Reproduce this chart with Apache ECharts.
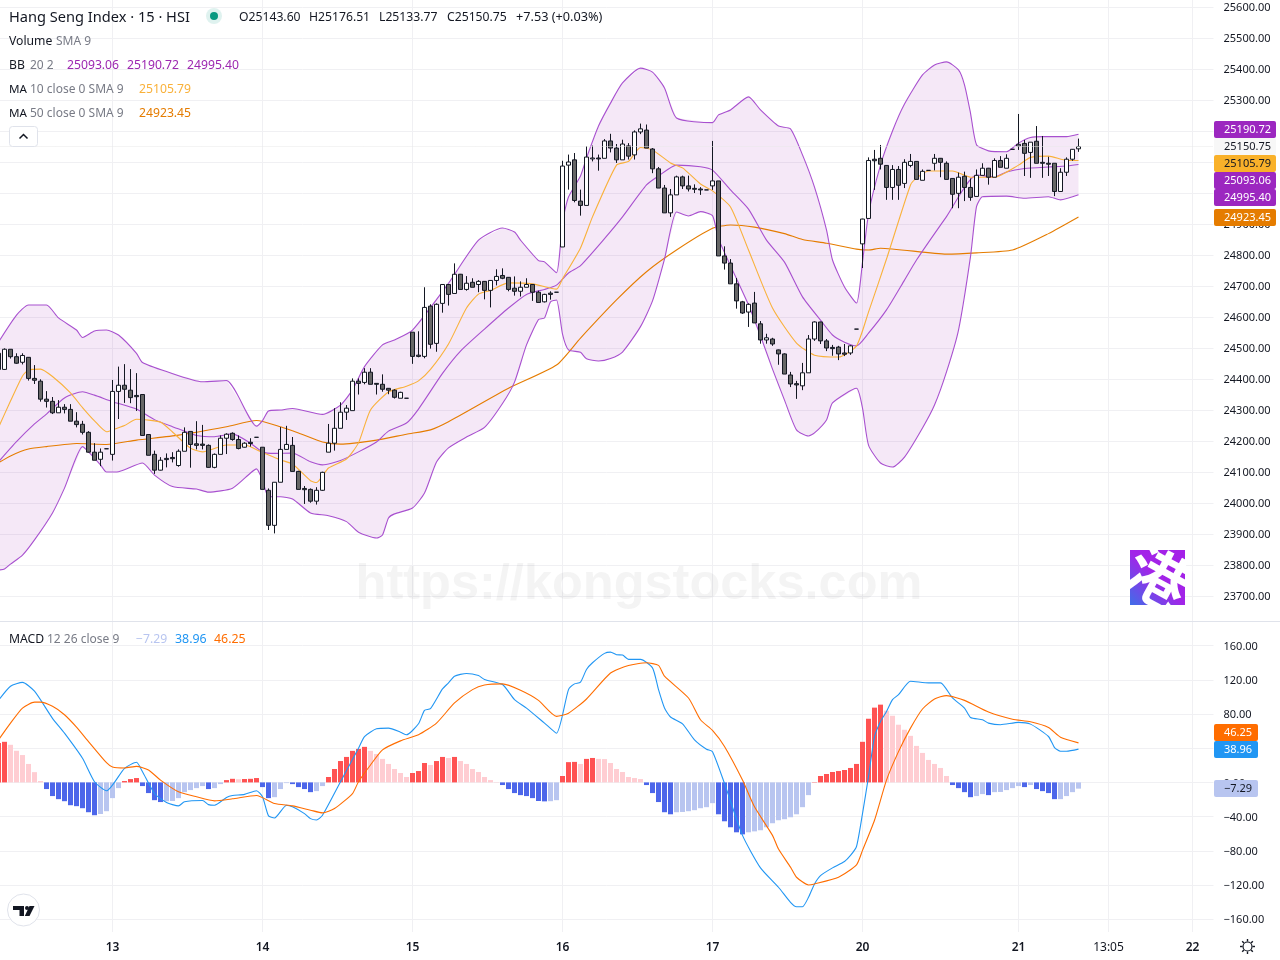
<!DOCTYPE html>
<html>
<head>
<meta charset="utf-8">
<title>Hang Seng Index 15m</title>
<style>html,body{margin:0;padding:0;background:#fff}#chart{width:1280px;height:960px}</style>
<script src="https://cdn.jsdelivr.net/npm/echarts@6/dist/echarts.min.js"></script>
</head>
<body>
<div id="chart"></div>
<script>
// 15-minute bars, one row per ten bars
const opens = [
24484,24432,24497,24473,24455,24471,24403,24394,24336,24329,
24292,24310,24303,24265,24255,24229,24165,24142,24176,24158,
24361,24381,24365,24348,24351,24222,24158,24107,24145,24148,
24122,24168,24232,24192,24191,24187,24116,24158,24210,24226,
24206,24181,24197,24213,24181,24042,23929,24068,24174,24187,
24103,24048,24045,24007,24042,24165,24194,24242,24294,24299,
24394,24390,24423,24387,24384,24371,24365,24339,24339,24552,
24478,24474,24636,24516,24645,24706,24677,24739,24690,24713,
24706,24716,24687,24719,24735,24729,24694,24684,24697,24706,
24681,24650,24678,24681,24827,25091,25108,24975,24961,25111,
25114,25113,25169,25146,25108,25153,25124,25198,25204,25143,
25079,25017,24937,24995,25053,25024,25016,25014,25011,25024,
25040,24798,24775,24708,24650,24617,24646,24579,24527,24530,
24495,24482,24414,24386,24379,24421,24530,24585,24524,24503,
24504,24485,24485,24562,24837,24919,25110,25113,25090,25019,
25077,25032,25090,25103,25042,25074,25097,25113,25097,25048,
25000,25055,25019,24990,25058,25081,25052,25106,25081,25142,
25153,25161,25132,25168,25100,25097,25097,25006,25068,25110,
25143.60];
const highs = [
24490,24500,24497,24484,24484,24472,24446,24400,24362,24343,
24333,24320,24320,24294,24266,24233,24194,24177,24176,24398,
24441,24449,24433,24420,24351,24222,24170,24149,24161,24165,
24174,24245,24232,24265,24253,24190,24161,24219,24226,24229,
24219,24197,24210,24213,24181,24048,24068,24246,24250,24214,
24105,24056,24048,24052,24102,24256,24307,24326,24317,24403,
24403,24436,24436,24388,24416,24372,24368,24360,24339,24552,
24555,24697,24642,24645,24707,24707,24774,24740,24733,24726,
24720,24717,24720,24755,24758,24730,24732,24716,24726,24707,
24686,24676,24684,24681,25105,25125,25130,25012,25152,25154,
25125,25175,25192,25159,25173,25162,25203,25225,25222,25146,
25085,25027,25014,25057,25057,25057,25029,25020,25011,25169,
25040,24829,24788,24727,24653,24645,24682,24588,24547,24534,
24496,24484,24424,24395,24453,24543,24587,24586,24530,24511,
24508,24514,24510,24562,24918,25116,25140,25156,25091,25091,
25088,25110,25127,25104,25077,25074,25127,25114,25103,25049,
25067,25070,25048,25077,25097,25082,25113,25120,25126,25142,
25256,25172,25165,25217,25185,25118,25097,25081,25116,25143,
25176.51];
const lows = [
24430,24430,24467,24450,24448,24396,24385,24328,24309,24288,
24292,24290,24265,24245,24222,24164,24139,24120,24176,24138,
24272,24324,24323,24298,24219,24155,24095,24106,24116,24132,
24118,24168,24115,24174,24174,24115,24113,24158,24159,24202,
24174,24180,24183,24213,24045,23914,23903,24068,24174,24103,
24045,23998,24002,23996,24040,24165,24170,24242,24269,24299,
24351,24384,24384,24351,24360,24352,24338,24339,24339,24450,
24471,24468,24499,24489,24615,24638,24677,24690,24686,24697,
24681,24658,24632,24703,24723,24684,24670,24667,24697,24653,
24648,24648,24657,24681,24827,25012,24971,24928,24961,25103,
25073,25113,25132,25098,25108,25109,25109,25191,25146,25065,
25017,24937,24924,24995,25014,25006,25001,24995,25011,25011,
24798,24754,24708,24628,24611,24569,24582,24515,24515,24508,
24447,24417,24375,24337,24365,24421,24524,24514,24491,24476,
24462,24475,24479,24562,24759,24919,25011,25077,24979,24979,
24979,25017,25084,25045,25042,25074,25074,25052,25045,24952,
24952,24975,24976,24990,25058,25028,25052,25084,25081,25142,
25140,25056,25050,25097,25050,25056,24991,25006,25056,25105,
25133.77];
const closes = [
24432,24497,24473,24452,24477,24403,24397,24336,24329,24292,
24310,24303,24265,24254,24229,24165,24139,24165,24176,24361,
24381,24368,24341,24344,24219,24155,24107,24139,24141,24144,
24168,24229,24190,24187,24187,24116,24158,24210,24223,24206,
24177,24194,24193,24213,24045,23929,24068,24174,24190,24103,
24045,24044,24007,24042,24100,24194,24242,24294,24307,24394,
24387,24423,24384,24384,24368,24365,24342,24358,24339,24474,
24474,24632,24513,24642,24706,24674,24739,24690,24710,24697,
24716,24687,24719,24732,24726,24690,24684,24697,24706,24681,
24648,24674,24674,24681,25088,25101,24977,24961,25117,25114,
25111,25169,25146,25108,25159,25120,25198,25208,25146,25079,
25017,24937,24995,25053,25024,25014,25013,25011,25011,25040,
24798,24775,24708,24653,24614,24642,24582,24527,24534,24514,
24482,24417,24385,24382,24421,24530,24585,24524,24501,24499,
24482,24481,24508,24562,24917,25106,25105,25094,25019,25077,
25026,25100,25103,25045,25071,25074,25113,25100,25045,24997,
25052,25019,24987,25058,25081,25052,25106,25084,25113,25142,
25158,25129,25165,25097,25097,25094,25006,25068,25110,25142,
25150.75];

// Indicator vertices as [bar index, value]
const bbUpper = [[0,24520],[3,24607],[5,24640],[8,24640],[10,24598],[13,24559],[14,24535],[16,24556],[18,24559],[20,24543],[23,24484],[24,24454],[28,24425],[34,24392],[38,24396],[43,24249],[44,24267],[45,24298],[47,24301],[49,24306],[54,24287],[57,24317],[59,24366],[61,24441],[64,24511],[66,24527],[69,24559],[75,24710],[80,24849],[84,24888],[86,24875],[87,24849],[90,24783],[91,24779],[93,24744],[94,24908],[95,24988],[97,25056],[98,25114],[100,25217],[102,25291],[104,25356],[107,25404],[109,25391],[111,25340],[113,25243],[119,25228],[120,25253],[122,25269],[125,25311],[127,25269],[130,25217],[132,25208],[134,25124],[136,25020],[138,24882],[139,24785],[141,24698],[143,24646],[144,24778],[145,24933],[147,25091],[149,25201],[151,25288],[154,25382],[156,25414],[158,25424],[160,25398],[161,25350],[162,25259],[163,25157],[165,25137],[168,25134],[170,25162],[172,25180],[174,25183],[178,25183],[180,25190.72]];
const bbLower = [[0,23785],[1,23788],[2,23804],[4,23833],[6,23882],[9,23969],[11,24049],[14,24183],[15,24166],[17,24124],[18,24101],[20,24102],[24,24130],[26,24091],[29,24054],[33,24046],[35,24036],[39,24049],[42,24098],[43,24111],[44,24075],[45,24021],[47,24021],[49,24014],[52,23969],[55,23960],[58,23941],[60,23907],[63,23888],[64,23898],[65,23953],[66,23966],[69,23985],[71,24033],[73,24133],[75,24179],[78,24214],[81,24245],[84,24322],[86,24391],[88,24511],[90,24593],[91,24598],[92,24650],[93,24656],[94,24546],[95,24495],[97,24487],[98,24466],[100,24459],[102,24467],[104,24488],[107,24570],[109,24653],[111,24788],[113,24940],[115,24927],[117,24941],[119,24928],[120,24853],[125,24640],[127,24540],[129,24433],[131,24333],[133,24237],[135,24217],[136,24227],[138,24269],[139,24324],[143,24371],[144,24307],[145,24188],[147,24130],[149,24117],[151,24149],[154,24243],[156,24317],[158,24424],[160,24559],[162,24796],[163,24957],[164,24989],[168,24991],[171,24984],[175,24989],[177,24979],[180,24995.40]];
const bbBasis = [[0,24134],[3,24199],[6,24256],[8,24288],[11,24340],[14,24360],[16,24349],[19,24328],[23,24304],[26,24270],[29,24247],[31,24233],[33,24219],[36,24215],[39,24224],[42,24194],[44,24166],[46,24161],[49,24162],[52,24134],[54,24124],[57,24138],[60,24166],[63,24198],[65,24233],[68,24259],[70,24304],[74,24419],[77,24491],[81,24562],[85,24630],[88,24674],[91,24690],[93,24704],[95,24743],[97,24767],[101,24854],[104,24924],[108,25027],[110,25056],[113,25091],[117,25086],[119,25075],[122,25011],[125,24949],[128,24849],[131,24778],[134,24666],[137,24591],[139,24543],[141,24520],[143,24508],[145,24549],[148,24624],[151,24720],[153,24785],[158,24925],[163,25059],[166,25053],[168,25069],[171,25080],[175,25085],[178,25088],[180,25093.06]];
const ma10 = [[0,24245],[2,24330],[4,24411],[5,24430],[7,24433],[9,24409],[12,24356],[14,24309],[16,24266],[18,24231],[19,24237],[21,24251],[23,24271],[27,24262],[29,24230],[32,24178],[34,24166],[38,24188],[41,24188],[44,24164],[47,24140],[49,24127],[52,24073],[53,24067],[55,24114],[58,24143],[60,24195],[62,24301],[65,24359],[68,24378],[70,24395],[72,24432],[75,24514],[78,24630],[80,24675],[82,24687],[85,24711],[89,24708],[93,24691],[94,24724],[97,24824],[99,24924],[103,25091],[105,25103],[107,25148],[109,25140],[112,25098],[114,25082],[117,25030],[119,25008],[122,24956],[125,24817],[129,24630],[133,24517],[136,24478],[140,24472],[143,24508],[145,24617],[148,24788],[152,25027],[153,25049],[155,25072],[159,25072],[162,25052],[166,25052],[170,25091],[172,25116],[175,25120],[178,25106],[180,25105.79]];
const ma50 = [[0,24131],[2,24153],[5,24175],[8,24183],[13,24193],[18,24190],[23,24204],[30,24220],[38,24247],[43,24267],[47,24247],[50,24227],[54,24198],[57,24191],[63,24204],[68,24223],[72,24237],[75,24263],[85,24371],[93,24446],[97,24533],[103,24656],[108,24747],[113,24817],[119,24887],[122,24898],[126,24891],[131,24870],[134,24851],[138,24839],[143,24820],[145,24817],[147,24823],[158,24804],[163,24808],[169,24817],[175,24870],[180,24923.45]];
const macdLine = [[0,96],[2,112.5],[4,117],[6,106.7],[9,75],[11,57.6],[14,28.2],[16,0.8],[18,-9.8],[21,16.5],[23,23.5],[24,12.5],[26,-13],[28,-23.5],[30,-27.5],[31,-22.7],[34,-21.2],[35,-26],[36,-26.7],[38,-17.6],[39,-15.3],[41,-14],[43,-9.8],[44,-16.9],[45,-39.2],[46,-41.6],[48,-26.7],[49,-28.6],[51,-36.5],[52,-42.4],[53,-44],[54,-38.4],[57,0.8],[60,40],[61,53.7],[63,62.7],[65,63.5],[67,58.8],[68,55.7],[70,68.6],[71,84.3],[72,86.3],[74,109.4],[75,116.5],[76,124.3],[78,127.5],[80,125],[81,120.4],[84,114.5],[86,96.9],[88,87],[91,69.4],[93,57.6],[95,108.6],[96,115.3],[97,117.3],[98,132.2],[99,140],[101,151],[102,152.5],[103,149.4],[104,149],[105,144],[107,144],[109,134],[110,108.6],[111,87],[112,76.5],[114,68.6],[116,49.8],[118,38.8],[119,36],[121,-1.2],[124,-62],[127,-100],[130,-122.7],[132,-140.4],[133,-145.5],[134,-145.5],[135,-134.5],[136,-118.8],[137,-109],[139,-100],[141,-92.5],[142,-85.5],[143,-75],[144,-36.5],[145,6.7],[146,53.7],[147,71.4],[148,83],[149,96.9],[150,102.7],[152,118.4],[155,116.5],[157,116.5],[159,98.8],[161,87],[162,76],[164,73.3],[165,69.4],[167,67.5],[170,70.2],[172,68.2],[175,53.7],[176,40.8],[177,36.5],[178,36.5],[180,38.96]];
const macdSignal = [[0,49.8],[2,69.4],[4,87],[6,94],[7,94],[9,89],[11,79.2],[13,64.7],[15,47.8],[18,23],[19,18],[21,16.9],[23,18.8],[25,14.5],[27,2.7],[30,-11],[33,-16.9],[36,-21.6],[39,-19.2],[43,-15.3],[46,-24.7],[49,-27.5],[52,-32.5],[54,-35.7],[56,-30.6],[59,-13],[60,0.8],[62,20.4],[64,38],[67,48.6],[70,55.7],[73,69.4],[76,93],[79,108.6],[81,114],[84,115.3],[87,107.8],[90,96],[93,77.3],[95,81],[98,97.6],[102,128],[105,136.9],[108,140],[110,136.9],[111,124.3],[115,98.8],[117,73.3],[119,60.8],[121,42],[124,2.7],[126,-28.6],[129,-62],[130,-78],[132,-99.2],[133,-111],[135,-120],[136,-118.8],[140,-111],[143,-96.5],[144,-79.6],[146,-44.3],[148,2.7],[150,36],[152,63.5],[154,85.9],[156,97.6],[158,101.6],[161,96],[165,82.4],[169,74],[172,71],[175,64.3],[177,52.9],[180,46.25]];
const macdHist = [
46,47.5,44,37,32,21.6,12,1.6,-7.8,-16,
-19.6,-22,-26.7,-27.8,-30.2,-34.9,-38.4,-37,-33.7,-18.4,
-6.7,1.6,3.9,5.1,-4.3,-12.5,-20.8,-23,-22,-21.8,
-18.4,-11.4,-9,-6.7,-4.3,-7.8,-6.7,-2,2.7,4.2,
3.7,4,4.2,5.1,-5.5,-18.4,-17.3,-7.8,-0.8,-2,
-5.5,-7.8,-11.4,-10.2,-4.3,6.3,15.7,25,29.8,36.9,
39.2,41.6,36.9,33.3,27.5,21.6,15.7,11,6.3,11,
13.3,22.7,20.4,25,29.8,28.6,29.8,25,21.6,15.7,
12.2,6.3,2.7,0.4,-3.1,-7.8,-12.5,-14.9,-16,-18.4,
-21.8,-22.2,-22,-20.8,7.5,23.7,24,21.6,27.5,28.6,
27.5,27.3,22.7,15.7,12.2,6.3,5.1,3.9,-3.1,-12.5,
-23,-34.9,-37.3,-34.9,-34.6,-33.7,-32.5,-30.2,-29,-24.3,
-37.3,-45.5,-52.5,-58.4,-60.8,-58.4,-57.3,-56,-52.5,-47.8,
-44.3,-43.1,-40.8,-37.3,-29,-14.9,0.4,7.5,9.8,12.2,
13.3,14.5,16.9,21.6,47.5,74.5,87.5,91,83.9,78,
67.5,61.6,54.5,42.7,34.5,26.3,21.6,16.9,7.5,-3.1,
-6.7,-11.4,-17.3,-16,-13.7,-14.9,-11.4,-11.2,-9,-6.7,
-4.3,-5.5,-3.1,-7.8,-10.2,-12.5,-19.6,-19.6,-16,-11.4,
-7.29];

const timeTickBars = [19,44,69,94,119,144,170,185,199];
const timeTickLabels = ['13','14','15','16','17','20','21','13:05','22'];
const lastPrice = 25150.75;

const FONT = '"Noto Sans", sans-serif';
const INK = '#131722', MUTED = '#787b86', GRID = '#f0f0f3', BORDER = '#e0e3eb';
const PURPLE = '#9c27b0', MA10_COLOR = '#f9b13a', MA50_COLOR = '#e57c00';

const BAR_SLOTS = 203;
const categories = Array.from({length: BAR_SLOTS}, (_, i) => String(i));
const timeCategories = Array.from({length: 201}, (_, i) => {
  const k = timeTickBars.indexOf(i);
  return k >= 0 ? timeTickLabels[k] : '';
});

const candles = closes.map((c, i) => [opens[i], c, lows[i], highs[i]]);

// Histogram tone follows direction against the previous bar
const histBars = macdHist.map((v, i) => {
  const prev = i ? macdHist[i - 1] : v;
  const rising = v >= prev;
  const color = v >= 0 ? (rising ? '#ff5252' : '#ffcdd2') : (rising ? '#b8c5f0' : '#4c66ea');
  return {value: v, itemStyle: {color}};
});

const lineSeries = (name, data, color, xi, yi, width) => ({
  name, type: 'line', data, xAxisIndex: xi, yAxisIndex: yi, showSymbol: false, symbol: 'none',
  smooth: 0.2, lineStyle: {color, width: width || 1.1}, silent: true, animation: false, z: 3
});

// Shaded region between the Bollinger upper and lower bands
const bandFill = {
  type: 'custom', xAxisIndex: 0, yAxisIndex: 0, silent: true, clip: true, z: 1,
  data: [[0, bbUpper[0][1]]],
  renderItem(params, api) {
    const points = bbUpper.concat(bbLower.slice().reverse()).map(p => api.coord(p));
    return {type: 'polygon', shape: {points}, style: {fill: 'rgba(156,39,176,0.105)', stroke: 'none'}};
  }
};

const priceTags = [
  {text: '25190.72', y: 121, bg: '#9c27c0', fg: '#fff'},
  {text: '25150.75', y: 138, bg: '#f7f7f7', fg: INK},
  {text: '25105.79', y: 155, bg: '#f9b12a', fg: INK},
  {text: '25093.06', y: 172, bg: '#9c27c0', fg: '#fff'},
  {text: '24995.40', y: 189, bg: '#9c27c0', fg: '#fff'},
  {text: '24923.45', y: 209, bg: '#e57c00', fg: '#fff'}
];
const macdTags = [
  {text: '46.25', y: 724, bg: '#ff6d00', fg: '#fff'},
  {text: '38.96', y: 741, bg: '#2196f3', fg: '#fff'},
  {text: '\u22127.29', y: 780, bg: '#b8c5f0', fg: INK}
];

const label = (text, x, y, fill, size, weight) => ({
  type: 'text', z: 50, silent: true, x, y,
  style: {text, fill, font: `${weight || 'normal'} ${size || 12}px ${FONT}`, align: 'left', verticalAlign: 'middle'}
});
const tag = (t, w) => [
  {type: 'rect', z: 40, silent: true, shape: {x: 1214, y: t.y, width: w, height: 17, r: 2}, style: {fill: t.bg}},
  label(t.text, 1224, t.y + 9, t.fg, 11)
];

const gearParts = [];
for (let a = 0; a < 8; a++) {
  const c = Math.cos(a * Math.PI / 4), s = Math.sin(a * Math.PI / 4);
  gearParts.push({type: 'line', z: 50, silent: true,
    shape: {x1: 1247.5 + c * 5, y1: 946.5 + s * 5, x2: 1247.5 + c * 7.5, y2: 946.5 + s * 7.5},
    style: {stroke: INK, lineWidth: 1.4}});
}

const graphics = [
  // pane separator
  {type: 'line', z: 30, silent: true, shape: {x1: 0, y1: 621.5, x2: 1280, y2: 621.5}, style: {stroke: BORDER, lineWidth: 1}},
  // site watermark and badge
  {type: 'text', z: 4, silent: true, x: 639, y: 585,
    style: {text: 'https://kongstocks.com', fill: 'rgba(60,60,70,0.06)', font: 'bold 50.5px "Liberation Sans", sans-serif', align: 'center', verticalAlign: 'middle'}},
  {type: 'rect', z: 20, silent: true, shape: {x: 1130, y: 550, width: 55, height: 55},
    style: {fill: {type: 'linear', x: 1, y: 0, x2: 0, y2: 1, colorStops: [{offset: 0, color: '#a51fe8'}, {offset: 0.5, color: '#a224e8'}, {offset: 1, color: '#3f6ee8'}]}}},
  {type: 'text', z: 21, silent: true, x: 1157.5, y: 577.5, rotation: -0.5,
    style: {text: '港', fill: '#fff', font: 'bold 62px "Noto Sans CJK SC", sans-serif', align: 'center', verticalAlign: 'middle'}},
  // symbol header
  label('Hang Seng Index \u00b7 15 \u00b7 HSI', 9, 17.5, INK, 14.6),
  {type: 'circle', z: 49, silent: true, shape: {cx: 214, cy: 16, r: 8}, style: {fill: 'rgba(8,153,129,0.13)'}},
  {type: 'circle', z: 50, silent: true, shape: {cx: 214, cy: 16, r: 4}, style: {fill: '#089981'}},
  label('O25143.60', 239, 17.5, INK, 12.2),
  label('H25176.51', 309, 17.5, INK, 12.2),
  label('L25133.77', 379, 17.5, INK, 12.2),
  label('C25150.75', 447, 17.5, INK, 12.2),
  label('+7.53 (+0.03%)', 516, 17.5, INK, 12.7),
  label('Volume', 9, 41.5, INK, 12.2),
  label('SMA 9', 56, 41.5, MUTED, 12),
  label('BB', 9, 65.5, INK, 12.2),
  label('20 2', 30, 65.5, MUTED, 12),
  label('25093.06', 67, 65.5, PURPLE, 12.2),
  label('25190.72', 127, 65.5, PURPLE, 12.2),
  label('24995.40', 187, 65.5, PURPLE, 12.2),
  label('MA', 9, 89.5, INK, 11.6),
  label('10 close 0 SMA 9', 30, 89.5, MUTED, 12),
  label('25105.79', 139, 89.5, MA10_COLOR, 12.2),
  label('MA', 9, 113.5, INK, 11.6),
  label('50 close 0 SMA 9', 30, 113.5, MUTED, 12),
  label('24923.45', 139, 113.5, MA50_COLOR, 12.2),
  // collapse button
  {type: 'rect', z: 49, silent: true, shape: {x: 9.5, y: 126.5, width: 28, height: 20, r: 3}, style: {fill: '#fff', stroke: BORDER, lineWidth: 1}},
  {type: 'polyline', z: 50, silent: true, shape: {points: [[19.5, 138.5], [23.5, 134.5], [27.5, 138.5]]}, style: {fill: 'none', stroke: INK, lineWidth: 1.5}},
  // MACD header
  label('MACD', 9, 639.5, INK, 12.2),
  label('12 26 close 9', 47, 639.5, MUTED, 12),
  label('\u22127.29', 136, 639.5, '#b8c5f0', 12.2),
  label('38.96', 175, 639.5, '#2196f3', 12.4),
  label('46.25', 214, 639.5, '#ff6d00', 12.4),
  // TradingView badge
  {type: 'circle', z: 49, silent: true, shape: {cx: 23.5, cy: 910, r: 16}, style: {fill: '#fff', stroke: BORDER, lineWidth: 1}},
  {type: 'polygon', z: 50, silent: true, shape: {points: [[13, 906], [24, 906], [24, 916], [19.5, 916], [19.5, 910], [13, 910]]}, style: {fill: INK}},
  {type: 'circle', z: 50, silent: true, shape: {cx: 27, cy: 908, r: 2}, style: {fill: INK}},
  {type: 'polygon', z: 50, silent: true, shape: {points: [[29.5, 906], [34.5, 906], [29.5, 916], [24.8, 916]]}, style: {fill: INK}},
  // settings icon
  {type: 'circle', z: 50, silent: true, shape: {cx: 1247.5, cy: 946.5, r: 4.5}, style: {fill: '#fff', stroke: INK, lineWidth: 1.2}},
  ...gearParts,
  ...priceTags.flatMap(t => tag(t, 62)),
  ...macdTags.flatMap(t => tag(t, 44))
];

// Tick text sits a touch below its gridline
const tickRich = {t: {fontFamily: FONT, fontSize: 11, color: INK, padding: [2, 0, 0, 0]}};

const chart = echarts.init(document.getElementById('chart'), null, {renderer: 'canvas'});
chart.setOption({
  animation: false,
  backgroundColor: '#fff',
  // price pane, MACD pane, and a full-height grid carrying the time axis
  grid: [
    {left: -4.5, width: 1218, top: -23.67, height: 651, outerBoundsMode: 'none'},
    {left: -4.5, width: 1218, top: 611.5, height: 341.8, outerBoundsMode: 'none'},
    {left: -1.5, width: 1200, top: 0, height: 932, outerBoundsMode: 'none'}
  ],
  xAxis: [
    {type: 'category', gridIndex: 0, data: categories, show: false},
    {type: 'category', gridIndex: 1, data: categories, show: false},
    {type: 'category', gridIndex: 2, data: timeCategories, boundaryGap: false,
      axisLine: {show: false}, axisTick: {show: false},
      axisLabel: {
        interval: (i, v) => v !== '', margin: 10, fontFamily: FONT, fontSize: 12, color: INK,
        formatter: v => v.includes(':') ? v : `{day|${v}}`,
        rich: {day: {fontFamily: FONT, fontSize: 12, fontWeight: 600, color: INK}}
      },
      splitLine: {show: true, interval: (i, v) => v !== '', lineStyle: {color: GRID, width: 1}}}
  ],
  yAxis: [
    {type: 'value', gridIndex: 0, position: 'right', min: 23600, max: 25700, interval: 100,
      axisLine: {show: false}, axisTick: {show: false},
      axisLabel: {margin: 10, showMinLabel: false, showMaxLabel: false, rich: tickRich, formatter: v => `{t|${v.toFixed(2)}}`},
      splitLine: {show: true, showMinLine: false, showMaxLine: false, lineStyle: {color: GRID, width: 1}}},
    {type: 'value', gridIndex: 1, position: 'right', min: -200, max: 200, interval: 40,
      axisLine: {show: false}, axisTick: {show: false},
      axisLabel: {margin: 10, showMinLabel: false, showMaxLabel: false, rich: tickRich,
        formatter: v => `{t|${v.toFixed(2).replace('-', '\u2212')}}`},
      splitLine: {show: true, showMinLine: false, showMaxLine: false, lineStyle: {color: GRID, width: 1}}},
    {type: 'value', gridIndex: 2, min: 0, max: 1, show: false}
  ],
  series: [
    bandFill,
    lineSeries('MA 50', ma50, MA50_COLOR, 0, 0),
    lineSeries('BB upper', bbUpper, '#a850cf', 0, 0),
    lineSeries('BB lower', bbLower, '#a850cf', 0, 0),
    lineSeries('BB basis', bbBasis, '#a850cf', 0, 0),
    lineSeries('MA 10', ma10, MA10_COLOR, 0, 0),
    {
      name: 'HSI', type: 'candlestick', data: candles, xAxisIndex: 0, yAxisIndex: 0, barWidth: 4, z: 4, silent: true,
      itemStyle: {color: '#ffffff', color0: '#666666', borderColor: INK, borderColor0: INK, borderWidth: 1},
      markLine: {silent: true, symbol: 'none', animation: false, label: {show: false},
        lineStyle: {type: 'dotted', color: '#e8e8e8', width: 1}, data: [{yAxis: lastPrice}]}
    },
    {name: 'Histogram', type: 'bar', data: histBars, xAxisIndex: 1, yAxisIndex: 1, barWidth: 5, silent: true, z: 2},
    lineSeries('MACD', macdLine, '#2196f3', 1, 1),
    lineSeries('Signal', macdSignal, '#ff6d00', 1, 1)
  ],
  graphic: {elements: graphics}
});
</script>
</body>
</html>
